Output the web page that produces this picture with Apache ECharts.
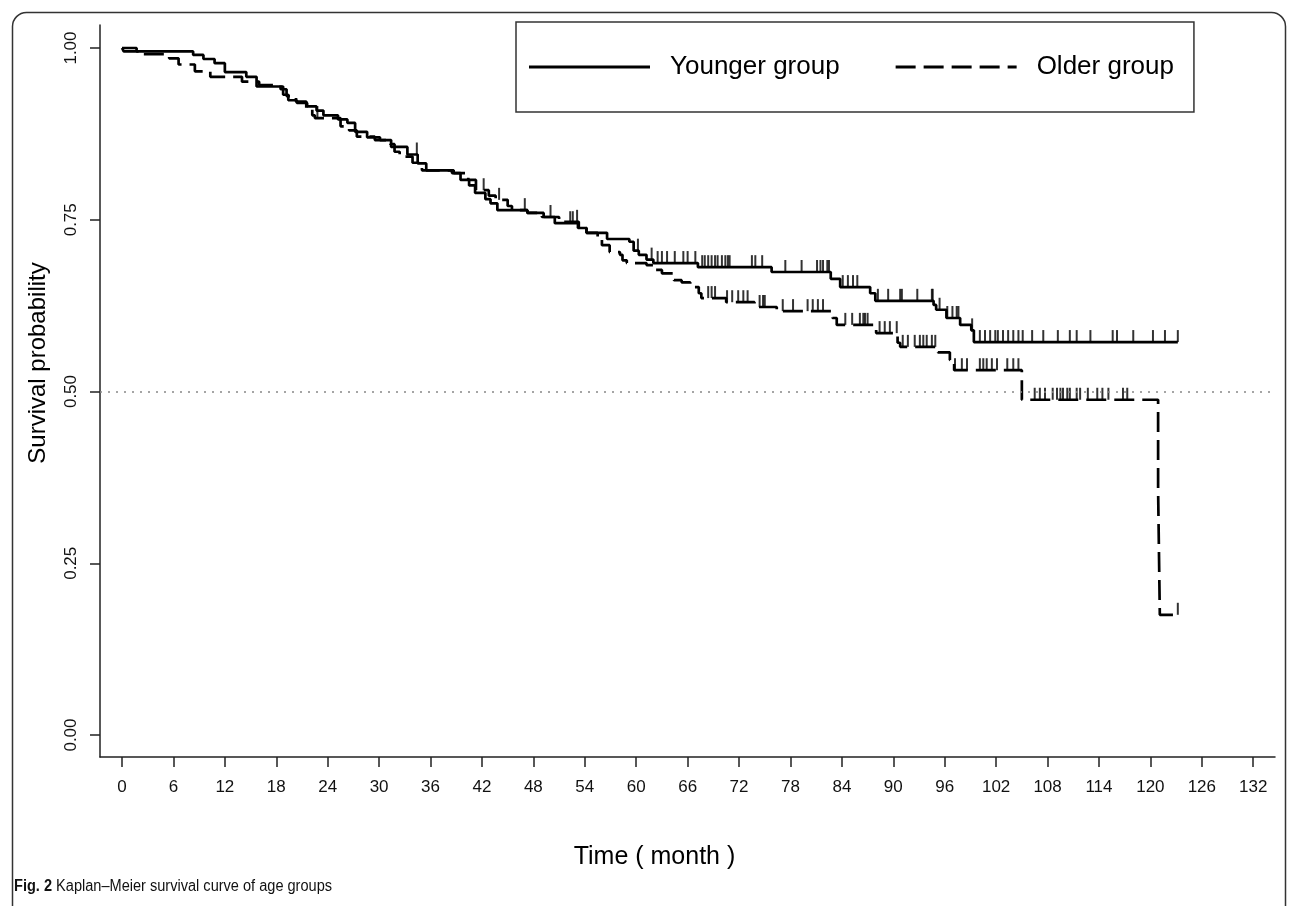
<!DOCTYPE html>
<html><head><meta charset="utf-8">
<script src="https://cdn.jsdelivr.net/npm/echarts@6/dist/echarts.min.js"></script>
<style>html,body{margin:0;padding:0;background:#fff}#chart{width:1290px;height:906px}</style>
</head><body><div id="chart"></div>
<script>
// ---- data ----
const xTickValues = [0,6,12,18,24,30,36,42,48,54,60,66,72,78,84,90,96,102,108,114,120,126,132];
const yTickValues = [0,0.25,0.5,0.75,1];
const seriesNames = ['Younger group','Older group'];

const youngerTimes = [0,0.2,8.3,9.5,10.8,12.0,14.5,15.7,18.8,19.4,20.4,21.6,22.7,23.5,25.2,26.3,27.2,28.6,30.1,31.4,33.3,34.5,35.5,38.5,39.5,40.5,41.2,42.4,43.0,43.8,47.3,49.2,50.5,53.2,54.2,56.6,59.2,59.7,60.3,61.2,62.0,67.2,75.8,82.7,83.8,87.3,87.9,94.7,95.0,96.2,97.8,99.1,99.4];
const youngerSurv = [1.000,0.995,0.990,0.984,0.978,0.965,0.958,0.944,0.932,0.924,0.920,0.915,0.909,0.902,0.896,0.891,0.878,0.870,0.866,0.856,0.845,0.832,0.822,0.818,0.808,0.800,0.789,0.780,0.774,0.764,0.760,0.754,0.745,0.738,0.731,0.722,0.718,0.705,0.699,0.692,0.687,0.681,0.674,0.664,0.652,0.643,0.632,0.626,0.619,0.607,0.597,0.589,0.572];
const youngerCensored = [34.4,50.0,52.3,52.6,60.2,61.8,62.5,63.0,63.6,64.5,65.5,66.0,66.9,67.7,68.0,68.4,68.8,69.2,69.5,70.0,70.4,70.7,70.9,73.5,73.9,74.7,77.4,79.3,81.1,81.5,81.8,82.3,82.5,84.1,84.7,85.3,85.8,88.2,89.4,90.8,91.0,92.8,94.5,94.6,95.4,96.3,96.9,97.4,97.6,99.2,100.1,100.7,101.3,101.9,102.2,102.8,103.4,104.0,104.6,105.1,106.2,107.5,109.2,110.6,111.4,113.0,115.6,116.1,118.0,120.3,121.7,123.2];

const olderTimes = [0,1.7,2.3,5.5,6.6,8.5,10.3,14.0,16.0,18.5,19.2,20.3,21.5,22.2,22.5,25.5,26.5,27.4,29.5,31.3,31.8,32.4,33.9,35.0,38.7,40.4,41.3,42.8,43.6,45.0,45.5,47.3,49.0,51.0,53.3,54.2,55.5,56.0,56.9,58.1,58.4,58.9,61.2,62.0,63.0,64.4,65.3,66.3,67.3,67.6,70.5,73.8,76.4,82.9,83.4,88.0,90.5,90.8,95.2,96.6,97.1,105.0,120.9,121.1];
const olderSurv = [1.000,0.995,0.991,0.985,0.976,0.966,0.958,0.951,0.946,0.940,0.930,0.922,0.912,0.902,0.898,0.886,0.880,0.871,0.866,0.860,0.849,0.842,0.833,0.822,0.818,0.808,0.793,0.785,0.779,0.770,0.764,0.760,0.754,0.747,0.738,0.731,0.722,0.713,0.703,0.699,0.691,0.687,0.684,0.677,0.672,0.662,0.659,0.652,0.643,0.636,0.630,0.623,0.617,0.607,0.597,0.585,0.571,0.565,0.557,0.546,0.531,0.488,0.357,0.175];
const olderCensored = [22.8,42.2,44.0,47.0,53.1,68.4,68.8,69.2,70.6,71.2,71.9,72.5,73.0,74.4,74.8,75.0,77.1,78.3,80.0,80.6,81.2,81.8,84.4,85.2,86.1,86.5,86.7,87.0,88.4,89.0,89.6,90.4,91.1,91.7,92.5,93.1,93.5,93.9,94.5,94.9,97.2,98.0,98.6,100.1,100.5,100.9,101.5,102.1,103.3,104.0,104.6,106.5,107.1,107.7,108.6,109.1,109.5,109.8,110.3,110.6,111.4,111.8,112.7,113.8,114.4,115.1,116.8,117.3,123.2];

const medianLine = 0.5;
const captionBold = 'Fig. 2';
const captionText = ' Kaplan\u2013Meier survival curve of age groups';
const xTitle = 'Time ( month )';
const yTitle = 'Survival probability';

// ---- helpers ----
function stepData(times, surv, censored){
  const d = times.map((t,i)=>[t,surv[i]]);
  const last = Math.max(times[times.length-1], censored[censored.length-1]);
  d.push([last, surv[surv.length-1]]);
  return d;
}
function survAt(times, surv, t){
  let s = surv[0];
  for(let i=0;i<times.length;i++){ if(times[i]<=t) s = surv[i]; }
  return s;
}
function censorData(times, surv, censored){
  return censored.map(t=>[t, survAt(times, surv, t)]);
}

const FONT = 'Liberation Sans, Arial, sans-serif';
const chart = echarts.init(document.getElementById('chart'), null, {renderer:'canvas'});

const solidIcon = 'path://M0,0H121V3H0Z';
const dashIcon = 'path://M0,0H20V3H0Z M28,0H48V3H28Z M56,0H76V3H56Z M84,0H104V3H84Z M112,0H121V3H112Z';

chart.setOption({
  animation:false,
  backgroundColor:'#fff',
  grid:{left:100, right:15, top:25, bottom:149, containLabel:false},
  xAxis:{
    type:'value', min:-2.57, max:134.54,
    name:xTitle, nameLocation:'middle', nameGap:88,
    nameTextStyle:{fontFamily:FONT, fontSize:25, color:'#000', padding:[0,66,0,0]},
    axisLine:{show:true, onZero:false, lineStyle:{color:'#222', width:1.5}},
    axisTick:{show:true, customValues:xTickValues, length:10, lineStyle:{color:'#222', width:1.5}},
    axisLabel:{show:true, customValues:xTickValues, margin:22, fontFamily:FONT, fontSize:17, color:'#111'},
    splitLine:{show:false}
  },
  yAxis:{
    type:'value', min:-0.032, max:1.0335,
    name:yTitle, nameLocation:'middle', nameGap:50,
    nameTextStyle:{fontFamily:FONT, fontSize:24, color:'#000', padding:[0,0,0,56]},
    axisLine:{show:true, onZero:false, lineStyle:{color:'#222', width:1.5}},
    axisTick:{show:true, customValues:yTickValues, length:10, lineStyle:{color:'#222', width:1.5}},
    axisLabel:{show:true, customValues:yTickValues, rotate:90, margin:20, fontFamily:FONT, fontSize:17, color:'#111',
      formatter:v=>Number(v).toFixed(2)},
    splitLine:{show:false}
  },
  legend:{
    data:[{name:seriesNames[0], icon:solidIcon},{name:seriesNames[1], icon:dashIcon}],
    left:516, top:22, orient:'horizontal',
    itemWidth:121, itemHeight:14, itemGap:56,
    padding:[32,20,32,13],
    borderColor:'#333', borderWidth:1.5,
    selectedMode:false,
    textStyle:{fontFamily:FONT, fontSize:26, color:'#000', padding:[0,0,0,15]}
  },
  graphic:[
    {type:'rect', left:10, top:10, silent:true, z:-1,
     shape:{x:0,y:0,width:1273,height:950,r:[14,14,0,0]},
     style:{fill:'none', stroke:'#333', lineWidth:1.5}},
    {type:'text', left:14, top:879, silent:true, scaleX:0.91, originX:0,
     style:{text:'{b|'+captionBold+'}'+captionText, font:'16px "Liberation Sans", Arial, sans-serif', fill:'#111',
       rich:{b:{fontWeight:'bold', fontFamily:'"Liberation Sans", Arial', fontSize:16, fill:'#111'}}}}
  ],
  series:[
    {name:seriesNames[0], type:'line', step:'end', symbol:'none', color:'#000',
     data:stepData(youngerTimes, youngerSurv, youngerCensored),
     lineStyle:{color:'#000', width:2.7, type:'solid'},
     markLine:{silent:true, symbol:'none', label:{show:false},
       lineStyle:{color:'#888', width:1.5, type:[2,6]},
       data:[{yAxis:medianLine}]},
     z:3},
    {name:seriesNames[1], type:'line', step:'end', symbol:'none', color:'#000',
     data:stepData(olderTimes, olderSurv, olderCensored),
     lineStyle:{color:'#000', width:2.7, type:[20,8], cap:'butt'},
     z:3},
    {name:'yc', type:'scatter', symbol:'rect', symbolSize:[2,12], symbolOffset:[0,-6],
     itemStyle:{color:'#000'}, data:censorData(youngerTimes, youngerSurv, youngerCensored), z:4},
    {name:'oc', type:'scatter', symbol:'rect', symbolSize:[2,12], symbolOffset:[0,-6],
     itemStyle:{color:'#000'}, data:censorData(olderTimes, olderSurv, olderCensored), z:4}
  ]
});
</script></body></html>
